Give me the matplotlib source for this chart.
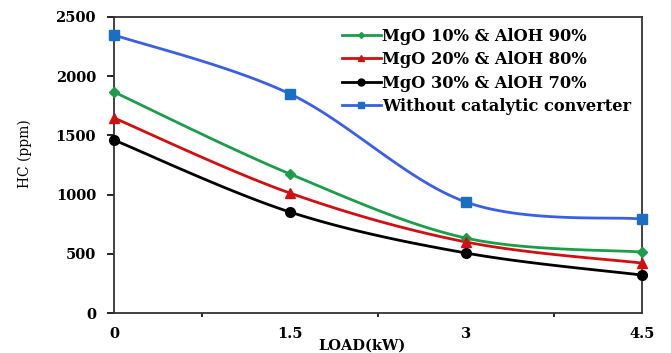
import numpy as np
import matplotlib.pyplot as plt
from matplotlib.ticker import FixedLocator

load = [0, 1.5, 3, 4.5]
mgo10 = [1866, 1174, 633, 515]
mgo20 = [1647, 1013, 600, 422]
mgo30 = [1461, 853, 507, 321]
no_cat = [2348, 1850, 937, 794]
labels = ["MgO 10% & AlOH 90%", "MgO 20% & AlOH 80%",
          "MgO 30% & AlOH 70%", "Without catalytic converter"]


def smooth(x, y, n=30):
    # excel-like smoothed line (cubic bezier, catmull-rom control points)
    x = np.asarray(x, float)
    y = np.asarray(y, float)
    px = np.concatenate([[x[0]], x, [x[-1]]])
    py = np.concatenate([[y[0]], y, [y[-1]]])
    xs, ys = [], []
    t = np.linspace(0, 1, n)
    for i in range(1, len(px) - 2):
        p0 = np.array([px[i], py[i]])
        p3 = np.array([px[i + 1], py[i + 1]])
        p1 = p0 + (np.array([px[i + 1], py[i + 1]]) - np.array([px[i - 1], py[i - 1]])) / 6
        p2 = p3 - (np.array([px[i + 2], py[i + 2]]) - np.array([px[i], py[i]])) / 6
        b = ((1 - t) ** 3)[:, None] * p0 + (3 * (1 - t) ** 2 * t)[:, None] * p1 \
            + (3 * (1 - t) * t ** 2)[:, None] * p2 + (t ** 3)[:, None] * p3
        xs.extend(b[:, 0])
        ys.extend(b[:, 1])
    return xs, ys


plt.rcParams['font.family'] = ['DejaVu Serif', 'Liberation Serif']

fig = plt.figure(figsize=(6.71, 3.53), dpi=100)
ax = fig.add_axes([0.170, 0.113, 0.787, 0.839])

series = [
    (mgo10, '#1a9e4a', '#1a9e4a', 'D', 5),
    (mgo20, '#d01010', '#d01010', '^', 7),
    (mgo30, 'black', 'black', 'o', 7),
    (no_cat, '#3a5ee8', '#1a6fc4', 's', 7),
]
handles = []
for (vals, lc, mc, mk, ms), lab in zip(series, labels):
    sx, sy = smooth(load, vals)
    ax.plot(sx, sy, color=lc, lw=2, zorder=2)
    ax.plot(load, vals, ls='none', marker=mk, ms=ms, color=mc,
            clip_on=False, zorder=3)
    h, = ax.plot([], [], color=lc, lw=2, marker=mk, ms=ms - 2, mfc=mc, mec=mc)
    handles.append(h)

ax.set_xlim(0, 4.5)
ax.set_ylim(0, 2500)
ax.set_xticks(load)
ax.set_xticklabels(['0', '1.5', '3', '4.5'])
ax.xaxis.set_minor_locator(FixedLocator([0.75, 2.25, 3.75]))
ax.tick_params(axis='x', which='major', length=0, pad=10)
ax.tick_params(axis='x', which='minor', length=3, width=1.2, direction='out')
ax.set_yticks([0, 500, 1000, 1500, 2000, 2500])
ax.tick_params(axis='y', length=5, width=1.2, direction='out', pad=8)
for t in ax.get_xticklabels() + ax.get_yticklabels():
    t.set_fontsize(10.5)
    t.set_fontweight('bold')
for s in ax.spines.values():
    s.set_linewidth(1.3)
    s.set_color('#333333')

ax.set_xlabel('LOAD(kW)', fontsize=10.5, fontweight='bold')
ax.xaxis.set_label_coords(0.47, -0.085, transform=ax.transAxes)
ax.xaxis.label.set_va('top')
ax.set_ylabel('HC (ppm)', fontsize=10)
ax.yaxis.set_label_coords(-0.155, 0.54, transform=ax.transAxes)

leg = ax.legend(handles, labels, loc='upper right', frameon=False,
                prop={'weight': 'bold', 'size': 11.7}, handlelength=2.4,
                handletextpad=0.1, labelspacing=0.4, borderaxespad=0.25,
                bbox_to_anchor=(1.0, 1.0))

fig.savefig('out.png', dpi=100)
